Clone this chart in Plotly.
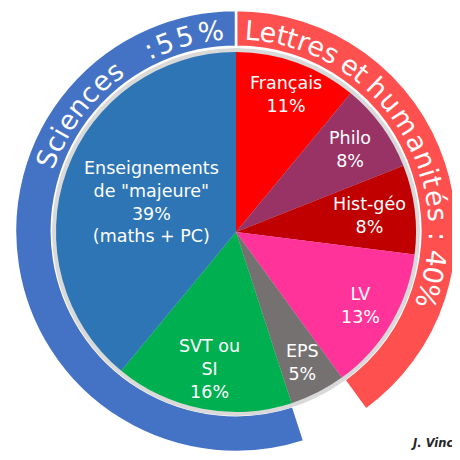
import numpy as np
import plotly.graph_objects as go

# ---------------- data ----------------
subjects = ["Français", "Philo", "Hist-géo", "LV", "EPS", "SVT ou<br>SI",
            "Enseignements<br>de \"majeure\""]
shares = [11, 8, 8, 13, 5, 16, 39]
label_notes = ["", "", "", "", "", "", "(maths + PC)"]
groups = ["Lettres", "Lettres", "Lettres", "Lettres", "Aucun", "Sciences", "Sciences"]
subject_colors = ["#FF0000", "#993366", "#C00000", "#FF3399", "#767171", "#00B050", "#2E75B6"]

ring_groups = ["Lettres", "Aucun", "Sciences"]
ring_colors = ["#FF5050", "rgba(0,0,0,0)", "#4472C4"]

ring_values = [sum(s for s, g in zip(shares, groups) if g == rg) for rg in ring_groups]
lettres_total = ring_values[0]
sciences_total = ring_values[2]
ring_text_lettres = f"Lettres et humanités : {lettres_total}%"
ring_text_sciences = f"Sciences  :{sciences_total}%"

# ---------------- layout constants ----------------
OFF = 8            # page offset of the plot div (default body margin)
W, H = 452, 444    # figure size inside the 460 window
CX, CY = 236, 232  # centre in window pixels
R_PIE, R_BAND, R_RING_IN, R_RING_OUT, R_TEXT = 180, 184, 185, 222, 202
FONT = "DejaVu Sans"
label_radius_frac = [0.812, 0.784, 0.745, 0.806, 0.816, 0.773, 0.5]


def to_paper(px, py):
    return (px - OFF) / W, 1 - (py - OFF) / H


def domain(r):
    x0, y1 = to_paper(CX - r, CY - r)
    x1, y0 = to_paper(CX + r, CY + r)
    return dict(x=[max(0.0, x0), min(1.0, x1)], y=[max(0.0, y0), min(1.0, y1)])


fig = go.Figure()

# outer ring (groups)
fig.add_trace(go.Pie(
    values=ring_values, labels=ring_groups, sort=False, direction="clockwise",
    rotation=0, hole=R_RING_IN / R_RING_OUT, domain=domain(R_RING_OUT),
    marker=dict(colors=ring_colors, line=dict(color="white", width=[2.5, 0, 2.5])),
    textinfo="none", hoverinfo="skip", showlegend=False))

# light grey band around the inner pie
fig.add_trace(go.Pie(
    values=[sum(shares)], labels=["band"], sort=False, domain=domain(R_BAND),
    marker=dict(colors=["#D9D9D9"], line=dict(width=0)),
    textinfo="none", hoverinfo="skip", showlegend=False))

# inner pie (subjects)
fig.add_trace(go.Pie(
    values=shares, labels=subjects, sort=False, direction="clockwise",
    rotation=0, domain=domain(R_PIE),
    marker=dict(colors=subject_colors, line=dict(width=0)),
    textinfo="none", hoverinfo="label+value", showlegend=False))

annotations = []

# inner labels at slice mid-angles
total = sum(shares)
cum = np.cumsum([0] + shares)
for i, (name, v, note) in enumerate(zip(subjects, shares, label_notes)):
    mid = np.radians((cum[i] + v / 2) / total * 360)
    r = R_PIE * label_radius_frac[i]
    px, py = CX + r * np.sin(mid), CY - r * np.cos(mid)
    x, y = to_paper(px, py)
    txt = f"{name}<br>{v}%" + (f"<br>{note}" if note else "")
    annotations.append(dict(x=x, y=y, xref="paper", yref="paper", text=txt,
                            showarrow=False, xanchor="center", yanchor="middle",
                            align="center",
                            font=dict(family=FONT, size=17.5, color="#FFFFFF")))

# curved ring text
ADV = {' ': 651, 'L': 1141, 'e': 1260, 't': 803, 'r': 842, 's': 1067, 'h': 1298,
       'u': 1298, 'm': 1995, 'a': 1255, 'n': 1298, 'i': 569, 'é': 1260, ':': 690,
       '%': 1946, 'S': 1300, 'c': 1126}


def arc_text(text, anchors, r, size):
    w = np.array([ADV.get(c, 1303) for c in text], dtype=float)
    centers = np.cumsum(w) - w / 2
    idx = [a[0] for a in anchors]
    ang = [a[1] for a in anchors]
    angles = np.interp(centers, centers[idx], ang)
    out = []
    for c, th in zip(text, angles):
        if c == ' ':
            continue
        t = np.radians(th)
        x, y = to_paper(CX + r * np.sin(t), CY - r * np.cos(t))
        out.append(dict(x=x, y=y, xref="paper", yref="paper", text=c,
                        showarrow=False, xanchor="center", yanchor="middle",
                        textangle=float(th),
                        font=dict(family=FONT, size=size, color="#FFFFFF")))
    return out


annotations += arc_text(ring_text_lettres,
                        [(0, 4.6), (6, 28.1), (11, 44.4), (18, 80.3), (21, 91.4), (25, 108.3)],
                        R_TEXT, 27)
annotations += arc_text(ring_text_sciences,
                        [(0, -68.8), (7, -37.2), (10, -25.3), (13, -7.2)],
                        R_TEXT, 27)

# author
ax, ay = to_paper(455, 443)
annotations.append(dict(x=ax, y=ay, xref="paper", yref="paper",
                        text="<b><i>J. Vinc</i></b>", showarrow=False,
                        xanchor="right", yanchor="middle",
                        font=dict(family=FONT, size=11.5, color="#262626")))

fig.update_layout(width=W, height=H, margin=dict(l=0, r=0, t=0, b=0),
                  paper_bgcolor="white", plot_bgcolor="white",
                  annotations=annotations, showlegend=False)

fig.write_html("out.html")
